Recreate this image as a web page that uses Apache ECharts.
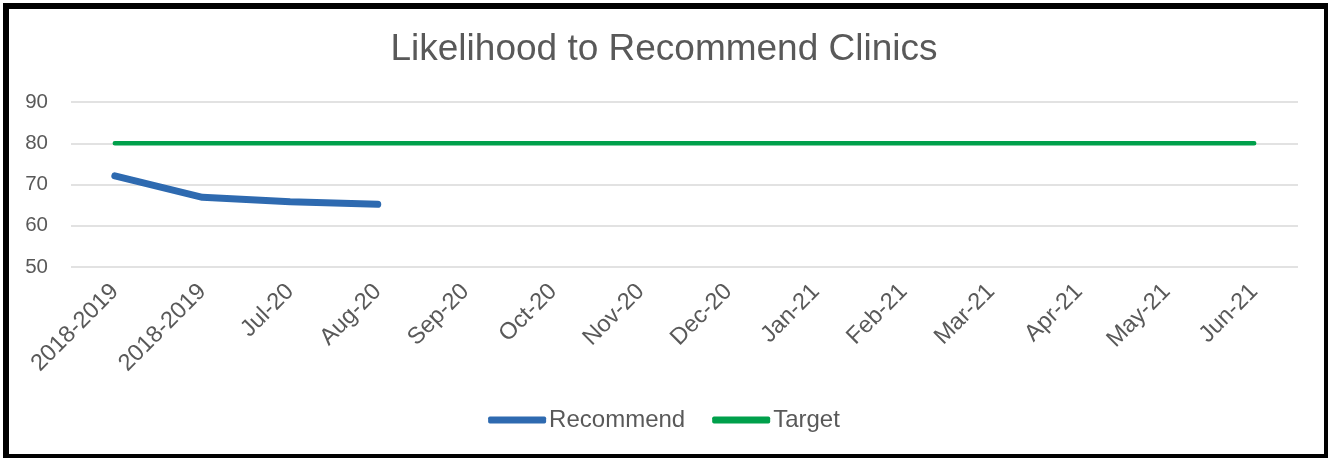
<!DOCTYPE html>
<html>
<head>
<meta charset="utf-8">
<script src="https://cdn.jsdelivr.net/npm/echarts@6/dist/echarts.min.js"></script>
<style>
  html, body { margin: 0; padding: 0; background: #fff; }
  #chart { position: absolute; left: 0; top: 0; width: 1328px; height: 458px; }
  #frame {
    position: absolute; left: 3px; top: 3px; width: 1325px; height: 455px;
    box-sizing: border-box; border-style: solid; border-color: #000;
    border-width: 6px 4px 4px 6px; pointer-events: none;
  }
</style>
</head>
<body>
<div id="chart"></div>
<div id="frame"></div>
<script>
// Periods on the x axis
const categories = ['2018-2019', '2018-2019', 'Jul-20', 'Aug-20', 'Sep-20', 'Oct-20', 'Nov-20',
  'Dec-20', 'Jan-21', 'Feb-21', 'Mar-21', 'Apr-21', 'May-21', 'Jun-21'];
// Likelihood to recommend scores (only reported periods so far)
const recommend = [72.1, 66.9, 65.8, 65.2, null, null, null, null, null, null, null, null, null, null];
// Target score for every period
const target = [80, 80, 80, 80, 80, 80, 80, 80, 80, 80, 80, 80, 80, 80];
// Value axis ticks
const yTicks = { min: 50, max: 90, interval: 10 };

const font = '"Liberation Sans", Arial, sans-serif';
const grey = '#595959';

const chart = echarts.init(document.getElementById('chart'), null, { renderer: 'canvas' });
chart.setOption({
  animation: false,
  backgroundColor: 'transparent',
  title: {
    text: 'Likelihood to Recommend Clinics',
    left: 'center',
    top: 26,
    textStyle: { fontFamily: font, fontSize: 37, fontWeight: 'normal', color: grey }
  },
  grid: { left: 71, right: 30, top: 102, height: 165, containLabel: false },
  xAxis: {
    type: 'category',
    data: categories,
    boundaryGap: true,
    axisLine: { show: false },
    axisTick: { show: false },
    axisLabel: {
      rotate: 45, interval: 0, margin: 21,
      fontFamily: font, fontSize: 23.5, color: grey
    },
    splitLine: { show: false }
  },
  yAxis: {
    type: 'value',
    min: yTicks.min, max: yTicks.max, interval: yTicks.interval,
    axisLine: { show: false },
    axisTick: { show: false },
    axisLabel: { margin: 23, fontFamily: font, fontSize: 20.5, color: grey },
    splitLine: { lineStyle: { color: '#D9D9D9', width: 1.5 } }
  },
  legend: {
    bottom: 21,
    left: 'center',
    itemWidth: 58,
    itemHeight: 7,
    itemGap: 27,
    icon: 'roundRect',
    textStyle: { fontFamily: font, fontSize: 24, color: grey, padding: [0, 0, 0, -2] },
    data: ['Recommend', 'Target']
  },
  series: [
    {
      name: 'Recommend',
      type: 'line',
      data: recommend,
      symbol: 'none',
      connectNulls: false,
      color: '#2E6AB0',
      lineStyle: { width: 7, color: '#2E6AB0', cap: 'round', join: 'round' },
      z: 3
    },
    {
      name: 'Target',
      type: 'line',
      data: target,
      symbol: 'none',
      color: '#00A04B',
      lineStyle: { width: 4.5, color: '#00A04B', cap: 'round' },
      z: 2
    }
  ]
});
</script>
</body>
</html>
